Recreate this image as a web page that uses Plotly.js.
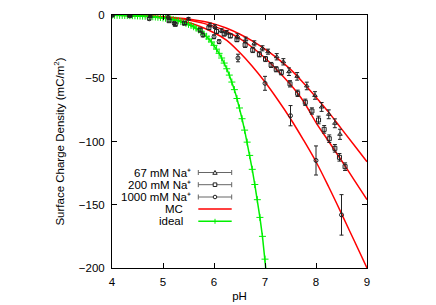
<!DOCTYPE html>
<html>
<head>
<meta charset="utf-8">
<script src="https://cdn.plot.ly/plotly-3.0.1.min.js"></script>
<style>html,body{margin:0;padding:0;background:#fff;}#chart{width:436px;height:305px;}</style>
</head>
<body>
<div id="chart"></div>
<script>
// ---- data ----
const legendLabels = ["67 mM Na\u207A", "200 mM Na\u207A", "1000 mM Na\u207A", "MC", "ideal"];

const pH67  = [4.0, 4.35, 4.75, 5.1, 5.5, 5.92, 6.02, 6.15, 6.25, 6.46, 6.62, 6.79, 6.95, 7.06, 7.23, 7.36, 7.47, 7.63, 7.82, 7.98, 8.11, 8.25, 8.37, 8.47];
const sig67 = [0, -0.5, -1, -1.5, -3, -7.9, -9.2, -12.4, -13.7, -16.8, -19.5, -22.4, -26.3, -29, -33, -37, -44.8, -48.5, -56.1, -63.6, -72.7, -78.5, -85.6, -94.3];
const err67 = [0.5, 0.5, 0.5, 0.8, 1, 1.5, 1.5, 1.5, 1.5, 2, 2, 2, 2, 2, 2.5, 2.5, 3, 3, 3, 3, 3.5, 3.5, 3.5, 4];

const pH200  = [4.0, 4.35, 5.12, 5.24, 5.42, 5.73, 5.9, 6.05, 6.2, 6.32, 6.45, 6.61, 6.76, 6.89, 7.01, 7.12, 7.22, 7.32, 7.49, 7.64, 7.79, 7.92, 8.05, 8.16, 8.26, 8.37, 8.46, 8.57];
const sig200 = [0, -0.5, -4.5, -7.4, -6.5, -11.9, -10, -13, -15, -16.5, -19.5, -23.7, -27.7, -31.1, -34.8, -39.5, -42.9, -45.3, -54.4, -61.9, -69, -75.9, -83, -90.4, -97.8, -105.4, -112.5, -119.9];
const err200 = [0.5, 0.5, 1, 1, 1, 1.5, 1.5, 1.5, 1.5, 1.5, 1.5, 2, 2, 2, 2, 2, 2, 2, 2.5, 2.5, 2.5, 2.5, 3, 3, 3, 3, 3, 3];

const pH1000  = [4.0, 4.35, 4.73, 5.22, 5.78, 6.0, 6.1, 6.47, 7.0, 7.5, 8.0, 8.5];
const sig1000 = [0, -0.3, -3, -6.5, -15.8, -17.2, -21.1, -34, -54, -79.6, -115, -158];
const err1000 = [0.5, 0.5, 1, 1, 1.5, 1.5, 1.5, 3, 5.5, 8, 11.5, 16];

const pHmc   = [4.0, 4.5, 5.0, 5.5, 6.0, 6.25, 6.5, 6.75, 7.0, 7.25, 7.5, 7.75, 8.0, 8.25, 8.5, 8.75, 9.0];
const mc67   = [0, -0.4, -1.3, -3.2, -7, -10.5, -15, -20.5, -27, -34.5, -43, -53.5, -65, -77, -90, -103, -116];
const mc200  = [0, -0.5, -1.6, -4, -9, -13, -18.5, -25.5, -34, -44, -55, -68, -85, -100, -115, -130.5, -146];
const mc1000 = [0, -0.7, -2.3, -6, -14, -20, -29.5, -40.5, -53, -67, -82, -98.5, -116, -136, -157, -178.5, -200];

const pHideal = [4.00, 4.05, 4.10, 4.15, 4.20, 4.25, 4.30, 4.35, 4.40, 4.45, 4.50, 4.55, 4.60, 4.65, 4.70, 4.75, 4.80, 4.85, 4.90, 4.95,
                 5.00, 5.05, 5.10, 5.15, 5.20, 5.25, 5.30, 5.35, 5.40, 5.45, 5.50, 5.55, 5.60, 5.65, 5.70, 5.75, 5.80, 5.85, 5.90, 5.95,
                 6.00, 6.05, 6.10, 6.15, 6.20, 6.25, 6.30, 6.35, 6.40, 6.45, 6.50, 6.55, 6.60, 6.65, 6.70, 6.75, 6.80, 6.85, 6.90, 6.95,
                 7.00, 7.05];
const sigideal = [-0.21, -0.24, -0.27, -0.3, -0.35, -0.4, -0.44, -0.5, -0.55, -0.6, -0.7, -0.8, -0.9, -1.0, -1.1, -1.3, -1.4, -1.6, -1.8, -2.0,
                  -2.3, -2.6, -2.9, -3.2, -3.6, -4.1, -4.6, -5.2, -5.8, -6.6, -7.4, -8.3, -9.3, -10.5, -11.8, -13.3, -15, -16.8, -19, -21.3,
                  -24, -27, -30.3, -34, -38, -42.5, -47.5, -53, -59, -66, -73.5, -82, -91, -100.5, -111, -122, -134, -146, -160, -175,
                  -193, -214];

const xTicks = [4, 5, 6, 7, 8, 9];
const yTicks = [0, -50, -100, -150, -200];

// ---- layout geometry (pixels) ----
const W = 436, H = 305, L = 112, R = 69, T = 15, B = 37;
const PW = W - L - R, PH = H - T - B;
const px2x = p => (p - L) / PW;
const py2y = p => (H - B - p) / PH;
const FONT = "Liberation Sans, Arial, Helvetica, sans-serif";

const errStyle = arr => ({type: 'data', array: arr, visible: true, color: '#222', thickness: 1, width: 2});

const traces = [
  {x: pHmc, y: mc67, mode: 'lines', line: {color: '#ff0000', width: 1.5, shape: 'spline'}, hoverinfo: 'skip'},
  {x: pHmc, y: mc200, mode: 'lines', line: {color: '#ff0000', width: 1.5, shape: 'spline'}, hoverinfo: 'skip'},
  {x: pHmc, y: mc1000, mode: 'lines', line: {color: '#ff0000', width: 1.5, shape: 'spline'}, hoverinfo: 'skip'},
  {x: pHideal, y: sigideal, mode: 'lines+markers', line: {color: '#00f000', width: 1.5},
   marker: {symbol: 'cross-thin', size: 5, color: '#00f000', line: {color: '#00f000', width: 1}}},
  {x: pH67, y: sig67, mode: 'markers', error_y: errStyle(err67),
   marker: {symbol: 'triangle-up-open', size: 4, color: '#222', line: {width: 1}}},
  {x: pH200, y: sig200, mode: 'markers', error_y: errStyle(err200),
   marker: {symbol: 'square-open', size: 4, color: '#222', line: {width: 1}}},
  {x: pH1000, y: sig1000, mode: 'markers', error_y: errStyle(err1000),
   marker: {symbol: 'circle-open', size: 4, color: '#222', line: {width: 1}}}
];

// ---- manual gnuplot-style key ----
const rows = [172.5, 184.7, 197, 209, 221.3];
const textRight = [192, 192, 192, 183.5, 183.5];
const sx0 = px2x(198.3), sx1 = px2x(231.7), sxc = px2x(215);
const annotations = legendLabels.map((t, i) => ({
  text: t, xref: 'paper', yref: 'paper', x: px2x(textRight[i]), y: py2y(rows[i]),
  xanchor: 'right', yanchor: 'middle', showarrow: false, borderpad: 0,
  font: {family: FONT, size: 11.5, color: '#000'}
}));
const shapes = [];
for (let i = 0; i < 3; i++) {
  const yy = py2y(rows[i]);
  shapes.push({type: 'line', xref: 'paper', yref: 'paper', x0: sx0, x1: sx1, y0: yy, y1: yy, line: {color: '#666', width: 1}});
  [sx0, sx1].forEach(xx => shapes.push({type: 'line', xref: 'paper', yref: 'paper', xsizemode: 'scaled', ysizemode: 'pixel',
    x0: xx, x1: xx, yanchor: yy, y0: -2.5, y1: 2.5, line: {color: '#666', width: 1}}));
}
const mk = {xref: 'paper', yref: 'paper', xsizemode: 'pixel', ysizemode: 'pixel', xanchor: sxc, line: {color: '#222', width: 1}, fillcolor: 'white'};
shapes.push(Object.assign({}, mk, {type: 'path', yanchor: py2y(rows[0]), path: 'M-2.2,-1.8 L2.2,-1.8 L0,2 Z'}));
shapes.push(Object.assign({}, mk, {type: 'rect', yanchor: py2y(rows[1]), x0: -1.8, x1: 1.8, y0: -1.8, y1: 1.8}));
shapes.push(Object.assign({}, mk, {type: 'circle', yanchor: py2y(rows[2]), x0: -1.8, x1: 1.8, y0: -1.8, y1: 1.8}));
shapes.push({type: 'line', xref: 'paper', yref: 'paper', x0: sx0, x1: sx1, y0: py2y(rows[3]), y1: py2y(rows[3]), line: {color: '#ff0000', width: 1.5}});
shapes.push({type: 'line', xref: 'paper', yref: 'paper', x0: sx0, x1: sx1, y0: py2y(rows[4]), y1: py2y(rows[4]), line: {color: '#00f000', width: 1.5}});
shapes.push({type: 'line', xref: 'paper', yref: 'paper', ysizemode: 'pixel', yanchor: py2y(rows[4]), x0: sxc, x1: sxc, y0: -2.5, y1: 2.5, line: {color: '#00f000', width: 1}});

const axisCommon = {
  showgrid: false, zeroline: false, showline: true, linecolor: '#000', linewidth: 1,
  mirror: 'ticks', ticks: 'inside', ticklen: 5, tickwidth: 1, tickcolor: '#000',
  tickfont: {family: FONT, size: 11.5, color: '#000'}
};

const layout = {
  width: W, height: H, margin: {l: L, r: R, t: T, b: B, pad: 0},
  paper_bgcolor: '#fff', plot_bgcolor: '#fff', showlegend: false,
  font: {family: FONT, size: 11, color: '#000'},
  xaxis: Object.assign({}, axisCommon, {range: [4, 9], tickvals: xTicks, ticktext: xTicks.map(String), ticklabelstandoff: 3,
    title: {text: 'pH', font: {family: FONT, size: 11.5, color: '#000'}, standoff: 5}}),
  yaxis: Object.assign({}, axisCommon, {range: [-200, 0], tickvals: yTicks, ticklabelstandoff: 4,
    title: {text: 'Surface Charge Density (mC/m<sup>2</sup>)', font: {family: FONT, size: 11.5, color: '#000'}, standoff: 11}}),
  annotations: annotations, shapes: shapes
};

Plotly.newPlot('chart', traces, layout, {displayModeBar: false, staticPlot: true});
</script>
</body>
</html>
